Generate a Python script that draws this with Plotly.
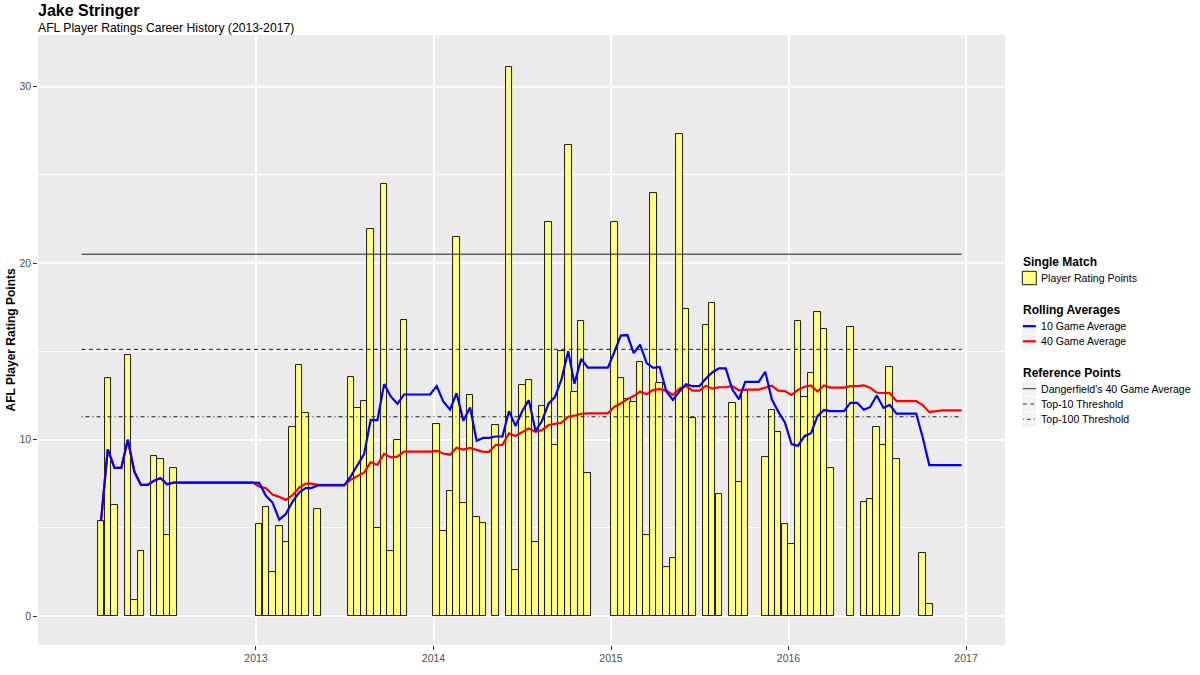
import plotly.graph_objects as go

# ---------------- data ----------------
# position of every match on the season timeline (decimal years)
match_year = [
    2012.127, 2012.165, 2012.203, 2012.278, 2012.315, 2012.352, 2012.426, 2012.462, 2012.499, 2012.536,
    2013.018, 2013.056, 2013.093, 2013.131, 2013.168, 2013.206, 2013.243, 2013.280, 2013.348,
    2013.534, 2013.571, 2013.609, 2013.646, 2013.684, 2013.722, 2013.759, 2013.797, 2013.834,
    2014.018, 2014.055, 2014.093, 2014.130, 2014.168, 2014.206, 2014.243, 2014.280, 2014.350,
    2014.425, 2014.462, 2014.500, 2014.537, 2014.575, 2014.611, 2014.648, 2014.685, 2014.721,
    2014.759, 2014.794, 2014.832, 2014.869,
    2015.019, 2015.055, 2015.092, 2015.128, 2015.164, 2015.201, 2015.238, 2015.274, 2015.312,
    2015.349, 2015.387, 2015.422, 2015.460,
    2015.535, 2015.570, 2015.608, 2015.683, 2015.721, 2015.756,
    2015.869, 2015.906, 2015.942, 2015.979, 2016.017, 2016.053, 2016.090, 2016.127, 2016.163,
    2016.200, 2016.236,
    2016.349, 2016.424, 2016.459, 2016.497, 2016.535, 2016.570, 2016.608,
    2016.756, 2016.793,
]

# single-match player rating points
rating = [
    5.38, 13.5, 6.29, 14.8, 0.89, 3.70, 9.08, 8.9, 4.61, 8.4,
    5.19, 6.19, 2.49, 5.1, 4.17, 10.69, 14.2, 11.48, 6.08,
    13.52, 11.78, 12.2, 21.9, 5.0, 24.5, 3.7, 10.0, 16.8,
    10.9, 4.82, 7.1, 21.5, 6.4, 12.5, 5.59, 5.29, 10.8,
    31.1, 2.59, 13.09, 13.39, 4.19, 11.92, 22.3, 9.67, 15.01, 26.7, 12.71, 16.7, 8.08,
    22.3, 13.5, 12.27, 12.1, 14.39, 4.59, 23.98, 13.18, 2.8, 3.31, 27.3, 17.39, 11.2,
    16.49, 17.71, 6.89, 12.09, 7.59, 12.75,
    8.99, 11.69, 10.41, 5.19, 4.1, 16.7, 12.39, 13.79, 17.2, 16.28, 8.39,
    16.39, 6.48, 6.61, 10.69, 9.67, 14.09, 8.9,
    3.59, 0.68,
]

# 10 game rolling average after each match (blue line)
avg10 = [
    5.38, 9.44, 8.39, 9.99, 8.17, 7.43, 7.66, 7.82, 7.46, 7.56,
    7.54, 6.81, 6.43, 5.46, 5.78, 6.48, 6.99, 7.25, 7.40,
    7.91, 8.57, 9.17, 11.11, 11.10, 13.14, 12.44, 12.02, 12.55,
    13.03, 12.16, 11.69, 12.62, 11.07, 11.82, 9.93, 10.09, 10.17,
    11.60, 10.77, 11.60, 12.23, 10.49, 11.05, 12.03, 12.43, 13.41, 15.00, 13.16, 14.57, 14.07,
    14.96, 15.89, 15.92, 14.90, 15.38, 14.33, 14.06, 14.11, 12.72, 12.24, 12.74, 13.13, 13.02,
    13.46, 13.80, 14.03, 12.84, 12.28, 13.27,
    13.84, 12.28, 11.58, 10.98, 9.74, 9.64, 10.19, 10.36, 11.32, 11.67, 11.61,
    12.08, 11.69, 11.83, 12.49, 11.79, 11.96, 11.47,
    10.11, 8.55,
]

# 40 game rolling average after each match (red line)
avg40 = [
    5.38, 9.44, 8.39, 9.99, 8.17, 7.43, 7.66, 7.82, 7.46, 7.56,
    7.34, 7.24, 6.88, 6.75, 6.58, 6.84, 7.27, 7.50, 7.43,
    7.73, 7.93, 8.12, 8.72, 8.56, 9.20, 8.99, 9.03, 9.31,
    9.36, 9.21, 9.14, 9.53, 9.43, 9.52, 9.41, 9.30, 9.69,
    10.35, 10.20, 10.44, 10.63, 10.44, 10.53, 10.82, 10.88, 10.95, 11.29, 11.35, 11.46, 11.48,
    11.86, 12.04, 12.29, 12.46, 12.72, 12.57, 12.81, 12.85, 12.77, 12.52, 12.90, 13.03, 12.77,
    13.05, 12.88, 12.96, 13.02, 12.79, 12.83,
    12.94, 13.05, 12.77, 12.74, 12.53, 12.81, 12.99, 13.06, 12.72, 13.06, 12.94,
    13.02, 13.07, 12.94, 12.65, 12.65, 12.63, 12.18,
    11.95, 11.55,
]
avg10_final = 8.55
avg40_final = 11.65

timeline_start = 2012.017
timeline_end = 2016.975

ref_names = ["Dangerfield's 40 Game Average", "Top-10 Threshold", "Top-100 Threshold"]
ref_values = [20.5, 15.11, 11.29]

year_ticks = [2013, 2014, 2015, 2016, 2017]
year_labels = ["2013", "2014", "2015", "2016", "2017"]
y_ticks = [0, 10, 20, 30]
y_minor = [5, 15, 25]

# ---------------- layout constants ----------------
W, H = 1200, 675
ML, MR, MT, MB = 38, 195, 35, 30
ROUND = 0.0368          # one round on the timeline (also bar width)
FONT = "Liberation Sans, Arial, Helvetica, sans-serif"
BAR_FILL = "#FFFF80"
REF_COLOR = "#1a1a1a"
REF_DASH = ["solid", "4px,3.5px", "1px,3px,4px,3px"]


def px_x(p):
    return (p - ML) / (W - ML - MR)


def px_y(p):
    return (H - MB - p) / (H - MT - MB)


def held_path(xs, ys, final):
    """Rolling average holds its value until the round before the next match."""
    out_x, out_y = [], []
    for i, (x, y) in enumerate(zip(xs, ys)):
        out_x.append(x)
        out_y.append(y)
        if i + 1 < len(xs) and xs[i + 1] - x > 1.5 * ROUND:
            out_x.append(xs[i + 1] - ROUND)
            out_y.append(y)
    out_x += [xs[-1] + 2 * ROUND, timeline_end]
    out_y += [final, final]
    return out_x, out_y


fig = go.Figure()

fig.add_trace(go.Bar(
    x=match_year, y=rating, width=ROUND,
    marker=dict(color=BAR_FILL, line=dict(color="black", width=0.9)),
    name="Player Rating Points", showlegend=False,
))

for name, val, dash in zip(ref_names, ref_values, REF_DASH):
    fig.add_trace(go.Scatter(
        x=[timeline_start, timeline_end], y=[val, val], mode="lines",
        line=dict(color=REF_COLOR, width=1, dash=dash),
        name=name, showlegend=False, hoverinfo="skip",
    ))

x40, y40 = held_path(match_year, avg40, avg40_final)
fig.add_trace(go.Scatter(x=x40, y=y40, mode="lines", name="40 Game Average",
                         line=dict(color="red", width=2.2), showlegend=False))
x10, y10 = held_path(match_year, avg10, avg10_final)
fig.add_trace(go.Scatter(x=x10, y=y10, mode="lines", name="10 Game Average",
                         line=dict(color="blue", width=2.2), showlegend=False))

# ---------------- legend (drawn to mirror the ggplot guide) ----------------
shapes = []
annotations = []
KX0, KX1, TX = 1022.3, 1036.3, 1038.5


def add_text(text, x, y, size, bold=False, color="black"):
    annotations.append(dict(
        text=("<b>%s</b>" % text) if bold else text,
        x=px_x(x), y=px_y(y), xref="paper", yref="paper",
        xanchor="left", yanchor="middle", showarrow=False,
        font=dict(family=FONT, size=size, color=color),
    ))


def add_key_bg(y):
    shapes.append(dict(type="rect", xref="paper", yref="paper",
                       x0=px_x(KX0), x1=px_x(KX1), y0=px_y(y - 7.2), y1=px_y(y + 7.2),
                       fillcolor="#F2F2F2", line=dict(width=0), layer="above"))


def add_key_line(y, color, width, dash="solid"):
    add_key_bg(y)
    shapes.append(dict(type="line", xref="paper", yref="paper",
                       x0=px_x(KX0 + 0.5), x1=px_x(KX1 - 0.5), y0=px_y(y), y1=px_y(y),
                       line=dict(color=color, width=width, dash=dash), layer="above"))


add_text("Single Match", TX - 17.5, 261.7, 12, bold=True)
shapes.append(dict(type="rect", xref="paper", yref="paper",
                   x0=px_x(KX0), x1=px_x(KX1), y0=px_y(284.7), y1=px_y(271.3),
                   fillcolor=BAR_FILL, line=dict(color="black", width=0.9), layer="above"))
add_text("Player Rating Points", TX, 277.7, 10.6)

add_text("Rolling Averages", TX - 17.5, 310.3, 12, bold=True)
add_key_line(326.2, "blue", 2.2)
add_text("10 Game Average", TX, 326.2, 10.6)
add_key_line(341.3, "red", 2.2)
add_text("40 Game Average", TX, 341.3, 10.6)

add_text("Reference Points", TX - 17.5, 373.3, 12, bold=True)
for name, yy, dash in zip(ref_names, [388.7, 404.0, 419.3], REF_DASH):
    add_key_line(yy, "#333333", 1, dash)
    add_text(name, TX, yy, 10.6)

# titles
add_text("Jake Stringer", 35.5, 10.8, 16, bold=True)
add_text("AFL Player Ratings Career History (2013-2017)", 35.5, 28.0, 12.2)
annotations.append(dict(
    text="<b>AFL Player Rating Points</b>", textangle=-90,
    x=px_x(10.5), y=px_y(340), xref="paper", yref="paper",
    xanchor="center", yanchor="middle", showarrow=False,
    font=dict(family=FONT, size=12, color="black"),
))

fig.update_layout(
    width=W, height=H,
    margin=dict(l=ML, r=MR, t=MT, b=MB, pad=0),
    paper_bgcolor="white", plot_bgcolor="#EBEBEB",
    font=dict(family=FONT, color="#4D4D4D"),
    showlegend=False, bargap=0,
    shapes=shapes, annotations=annotations,
    xaxis=dict(
        range=[2011.772, 2017.2195], tickmode="array",
        tickvals=year_ticks, ticktext=year_labels,
        showgrid=True, gridcolor="white", gridwidth=1.6,
        zeroline=False, showline=False,
        ticks="outside", ticklen=3.7, tickwidth=1, tickcolor="#333333",
        tickfont=dict(family=FONT, size=10.5, color="#4D4D4D"),
    ),
    yaxis=dict(
        range=[-1.643, 32.92], tickmode="array", tickvals=y_ticks,
        ticktext=[str(v) for v in y_ticks],
        showgrid=True, gridcolor="white", gridwidth=1.6,
        minor=dict(tickmode="array", tickvals=y_minor, showgrid=True,
                   gridcolor="white", gridwidth=0.8, ticks=""),
        zeroline=False, showline=False,
        ticks="outside", ticklen=3.7, tickwidth=1, tickcolor="#333333",
        tickfont=dict(family=FONT, size=10.5, color="#4D4D4D"),
    ),
)

fig.write_html("out.html", config={"displayModeBar": False},
               post_script="document.body.style.margin='0px';")
